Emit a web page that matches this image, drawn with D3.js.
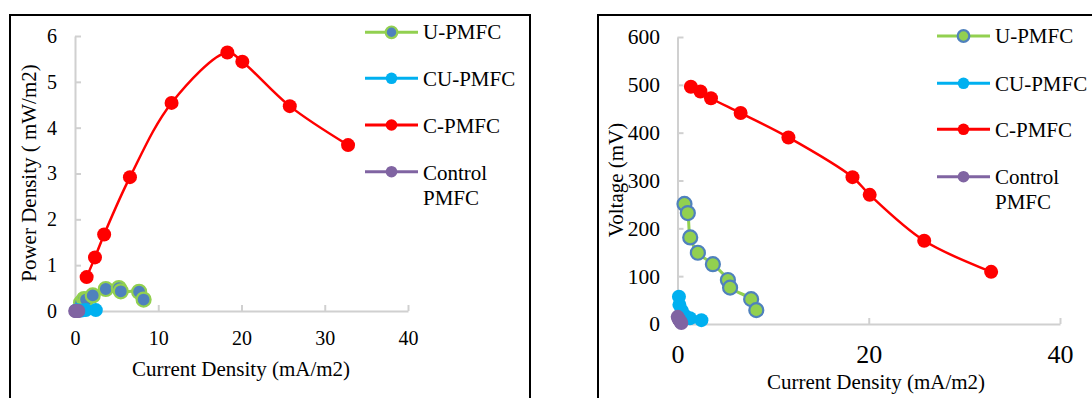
<!DOCTYPE html>
<html>
<head>
<meta charset="utf-8">
<script src="https://cdn.jsdelivr.net/npm/d3@7"></script>
<style>
  html, body { margin: 0; padding: 0; background: #fff; }
  svg, svg text { font-family: "Liberation Serif", "Times New Roman", serif; }
  svg { display: block; }
</style>
</head>
<body>
<svg id="chart" width="1092" height="398"></svg>
<script>
// Series names and colours
const seriesNames = ["U-PMFC", "CU-PMFC", "C-PMFC", "Control PMFC"];
const seriesColors = ["#92D050", "#00B0F0", "#FF0000", "#8064A2"];
const serifFont = '"Liberation Serif", "Times New Roman", serif';

// Current density (mA/m2), shared by both panels
const currentU = [0.73, 1.08, 1.33, 2.13, 3.7, 5.27, 5.5, 7.7, 8.24];
const currentCU = [0.15, 0.2, 0.45, 0.8, 1.3, 2.5];
const currentC = [1.4, 2.4, 3.5, 6.6, 11.6, 18.3, 20.1, 25.8, 32.8];
const currentControl = [0.02, 0.1, 0.2, 0.3, 0.4];

// Power density (mW/m2)
const powerU = [0.18, 0.26, 0.25, 0.34, 0.48, 0.5, 0.43, 0.42, 0.25];
const powerCU = [0.01, 0.01, 0.01, 0.01, 0.02, 0.02];
const powerC = [0.74, 1.17, 1.67, 2.92, 4.54, 5.64, 5.44, 4.47, 3.62];
const powerControl = [0, 0, 0, 0, 0];

// Voltage (mV)
const voltageU = [251, 232, 181, 149, 125, 92, 76, 52, 29];
const voltageCU = [57, 40, 28, 17, 12, 8];
const voltageC = [496, 486, 472, 441, 390, 307, 270, 174, 109];
const voltageControl = [15, 11, 8, 5, 2];

// Axis ticks
const xTicks = [0, 10, 20, 30, 40];
const powerTicks = [0, 1, 2, 3, 4, 5, 6];
const voltageXTicks = [0, 20, 40];
const voltageTicks = [0, 100, 200, 300, 400, 500, 600];

const zip = (xs, ys) => xs.map((x, i) => ({ x, y: ys[i] }));

const svg = d3.select("#chart");
svg.append("rect").attr("width", 1092).attr("height", 398).attr("fill", "#fff");

function drawPanel(cfg) {
  const g = svg.append("g");

  // frame
  g.append("rect")
    .attr("x", cfg.frame[0]).attr("y", cfg.frame[1])
    .attr("width", cfg.frame[2]).attr("height", cfg.frame[3])
    .attr("fill", "none").attr("stroke", "#000").attr("stroke-width", 2);

  const x = d3.scaleLinear().domain(cfg.xDomain).range(cfg.xRange);
  const y = d3.scaleLinear().domain(cfg.yDomain).range(cfg.yRange);

  // axes with inside ticks
  const xAxis = g.append("g")
    .attr("transform", `translate(0,${cfg.yRange[0]})`)
    .call(d3.axisBottom(x).tickValues(cfg.xTicks).tickSizeInner(-6).tickSizeOuter(0)
      .tickPadding(cfg.xPad).tickFormat(d3.format("d")));
  const yAxis = g.append("g")
    .attr("transform", `translate(${cfg.xRange[0]},0)`)
    .call(d3.axisLeft(y).tickValues(cfg.yTicks).tickSizeInner(-6).tickSizeOuter(0)
      .tickPadding(cfg.yPad).tickFormat(d3.format("d")));

  [[xAxis, cfg.xTickFont], [yAxis, cfg.yTickFont]].forEach(([a, size]) => {
    a.attr("font-family", serifFont).attr("font-size", size);
    a.select(".domain").attr("stroke", "#D0D0D0").attr("stroke-width", 2);
    a.selectAll(".tick line").attr("stroke", "#D0D0D0").attr("stroke-width", 2);
    a.selectAll(".tick text")
      .attr("fill", "#000")
      .style("font-family", serifFont)
      .style("font-size", size + "px");
  });
  xAxis.selectAll(".tick").filter(d => d === 0).select("line").remove();
  yAxis.selectAll(".tick").filter(d => d === 0).select("line").remove();

  // axis titles
  g.append("text")
    .attr("x", cfg.xTitle[0]).attr("y", cfg.xTitle[1])
    .attr("text-anchor", "middle").attr("font-size", 21).attr("fill", "#000")
    .text("Current Density (mA/m2)");
  g.append("text")
    .attr("transform", `translate(${cfg.yTitle[0]},${cfg.yTitle[1]}) rotate(-90)`)
    .attr("text-anchor", "middle").attr("font-size", 21).attr("fill", "#000")
    .text(cfg.yLabel);

  // series
  const line = d3.line().x(d => x(d.x)).y(d => y(d.y)).curve(d3.curveCatmullRom.alpha(0.5));
  cfg.series.forEach((s, i) => {
    const sg = g.append("g");
    sg.append("path").datum(s.points)
      .attr("d", line).attr("fill", "none")
      .attr("stroke", seriesColors[i]).attr("stroke-width", i === 0 ? 3 : 2.5);
    sg.selectAll("circle").data(s.points).join("circle")
      .attr("cx", d => x(d.x)).attr("cy", d => y(d.y)).attr("r", 7)
      .attr("fill", s.fill).attr("stroke", s.stroke).attr("stroke-width", s.strokeWidth);
  });

  // legend
  const lg = g.append("g");
  seriesNames.forEach((name, i) => {
    const cy = cfg.legendRows[i];
    const s = cfg.series[i];
    lg.append("line")
      .attr("x1", cfg.legendLine[0]).attr("x2", cfg.legendLine[1])
      .attr("y1", cy).attr("y2", cy)
      .attr("stroke", seriesColors[i]).attr("stroke-width", 3);
    lg.append("circle")
      .attr("cx", (cfg.legendLine[0] + cfg.legendLine[1]) / 2).attr("cy", cy).attr("r", 5.8)
      .attr("fill", s.fill).attr("stroke", s.stroke).attr("stroke-width", s.strokeWidth);
    const words = name === "Control PMFC" ? ["Control", "PMFC"] : [name];
    const t = lg.append("text")
      .attr("x", cfg.legendText).attr("y", cfg.legendBase[i])
      .attr("font-size", 21).attr("fill", "#000");
    words.forEach((w, k) => {
      t.append("tspan").attr("x", cfg.legendText)
        .attr("dy", k === 0 ? 0 : 24.5).text(w);
    });
  });
}

// Left panel: power density curves
drawPanel({
  frame: [10, 15, 520, 420],
  xDomain: [0, 40], xRange: [75, 408],
  yDomain: [0, 6], yRange: [311, 36],
  xTicks: xTicks, yTicks: powerTicks,
  xPad: 20, yPad: 18, xTickFont: 20, yTickFont: 20,
  xTitle: [241, 376], yTitle: [36, 173], yLabel: "Power Density ( mW/m2)",
  legendRows: [32.3, 78.3, 125, 171.7],
  legendBase: [39.3, 86, 132.7, 180],
  legendLine: [365, 418], legendText: 423,
  series: [
    { points: zip(currentU, powerU), fill: "#4F81BD", stroke: "#92D050", strokeWidth: 2.2 },
    { points: zip(currentCU, powerCU), fill: "#00B0F0", stroke: "#00B0F0", strokeWidth: 0 },
    { points: zip(currentC, powerC), fill: "#FF0000", stroke: "#FF0000", strokeWidth: 0 },
    { points: zip(currentControl, powerControl), fill: "#8064A2", stroke: "#8064A2", strokeWidth: 0 }
  ]
});

// Right panel: polarization curves
drawPanel({
  frame: [598, 15, 520, 420],
  xDomain: [0, 40], xRange: [677.5, 1060],
  yDomain: [0, 600], yRange: [324, 37],
  xTicks: voltageXTicks, yTicks: voltageTicks,
  xPad: 21, yPad: 17.5, xTickFont: 26, yTickFont: 21.5,
  xTitle: [876, 389], yTitle: [622.5, 180], yLabel: "Voltage (mV)",
  legendRows: [36, 83.3, 129.3, 176.7],
  legendBase: [43, 90.7, 136.5, 184],
  legendLine: [937, 990], legendText: 995,
  series: [
    { points: zip(currentU, voltageU), fill: "#92D050", stroke: "#4F81BD", strokeWidth: 2.2 },
    { points: zip(currentCU, voltageCU), fill: "#00B0F0", stroke: "#00B0F0", strokeWidth: 0 },
    { points: zip(currentC, voltageC), fill: "#FF0000", stroke: "#FF0000", strokeWidth: 0 },
    { points: zip(currentControl, voltageControl), fill: "#8064A2", stroke: "#8064A2", strokeWidth: 0 }
  ]
});
</script>
</body>
</html>
